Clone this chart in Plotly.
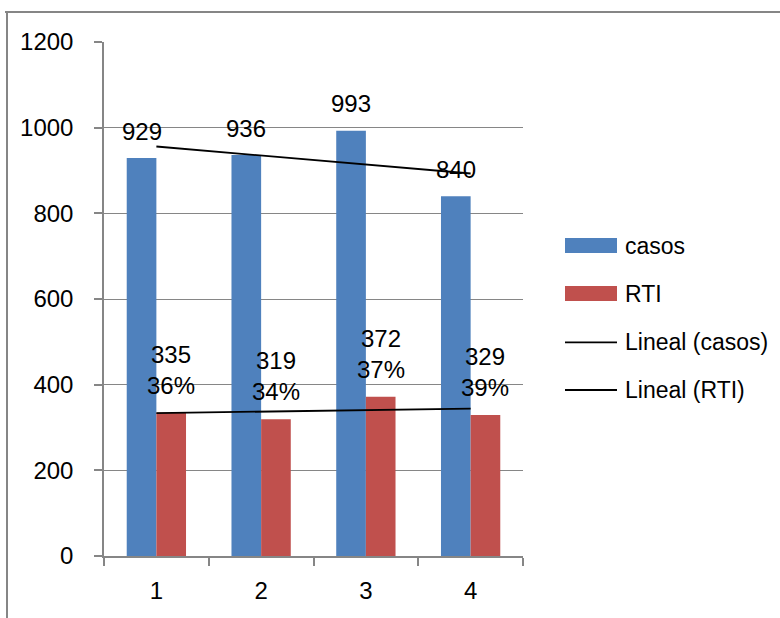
import numpy as np
import plotly.graph_objects as go

# Data
periodos = ["1", "2", "3", "4"]
casos = [929, 936, 993, 840]
rti = [335, 319, 372, 329]
y_ticks = [0, 200, 400, 600, 800, 1000, 1200]

AZUL = "#4F81BD"
ROJO = "#C0504D"
GRIS = "#868686"
FUENTE = "Liberation Sans, Arial, sans-serif"
TAM = 24       # numbers and tick labels
TAM_LEY = 23   # legend entries

W, H = 780, 618
L, R, T, B = 104, 523, 42, 556  # plot area in pixels


def px_x(px):
    return (px - L) / (R - L)


def px_y(py):
    return (B - py) / (B - T)


# Linear trend lines (least squares over the period index)
idx = np.arange(1, len(periodos) + 1)
tend_casos = np.polyval(np.polyfit(idx, casos, 1), idx)
tend_rti = np.polyval(np.polyfit(idx, rti, 1), idx)

fig = go.Figure()
fig.add_trace(go.Bar(x=periodos, y=casos, name="casos", marker_color=AZUL,
                     marker_line_width=0))
fig.add_trace(go.Bar(x=periodos, y=rti, name="RTI", marker_color=ROJO,
                     marker_line_width=0))
fig.add_trace(go.Scatter(x=periodos, y=tend_casos, mode="lines",
                         name="Lineal (casos)", line=dict(color="black", width=1.8)))
fig.add_trace(go.Scatter(x=periodos, y=tend_rti, mode="lines",
                         name="Lineal (RTI)", line=dict(color="black", width=1.8)))

# Value labels (category axis positions given by index)
bar_half = 14.8
anns = []
for i, (c, r) in enumerate(zip(casos, rti)):
    anns.append(dict(x=i, y=c, xref="x", yref="y", text=str(c), showarrow=False,
                     xshift=-bar_half, yshift=27, yanchor="middle",
                     font=dict(size=TAM, color="black", family=FUENTE)))
    pct = round(100 * r / c)
    anns.append(dict(x=i, y=r, xref="x", yref="y", text=f"{r}<br>{pct}%",
                     showarrow=False, xshift=bar_half, yshift=43, yanchor="middle",
                     font=dict(size=TAM, color="black", family=FUENTE)))

# Legend drawn at the right of the plot
shapes = []
leyenda = [("casos", "rect", AZUL, 245.5), ("RTI", "rect", ROJO, 293.5),
           ("Lineal (casos)", "line", "black", 342.3), ("Lineal (RTI)", "line", "black", 390)]
for nombre, tipo, color, cy in leyenda:
    if tipo == "rect":
        shapes.append(dict(type="rect", xref="paper", yref="paper",
                           x0=px_x(565), x1=px_x(617), y0=px_y(cy - 7.5), y1=px_y(cy + 7.5),
                           fillcolor=color, line=dict(width=0)))
    else:
        shapes.append(dict(type="line", xref="paper", yref="paper",
                           x0=px_x(565), x1=px_x(617), y0=px_y(cy), y1=px_y(cy),
                           line=dict(color=color, width=1.8)))
    anns.append(dict(x=px_x(623), y=px_y(cy), xref="paper", yref="paper", text=nombre,
                     showarrow=False, xanchor="left", yanchor="middle",
                     font=dict(size=TAM_LEY, color="black", family=FUENTE)))

# Chart frame
shapes.append(dict(type="line", xref="paper", yref="paper",
                   x0=px_x(5), x1=px_x(W + 5), y0=px_y(12), y1=px_y(12),
                   line=dict(color=GRIS, width=2)))
shapes.append(dict(type="line", xref="paper", yref="paper",
                   x0=px_x(7), x1=px_x(7), y0=px_y(12), y1=px_y(H + 5),
                   line=dict(color=GRIS, width=2)))

fig.update_layout(
    width=W, height=H,
    margin=dict(l=L, r=W - R, t=T, b=H - B),
    paper_bgcolor="white", plot_bgcolor="white",
    barmode="group", bargap=0.434, bargroupgap=0,
    showlegend=False,
    font=dict(family=FUENTE, size=TAM, color="black"),
    annotations=anns, shapes=shapes,
)
fig.update_xaxes(type="category", range=[-0.5, len(periodos) - 0.5],
                 tickson="boundaries", ticks="outside", ticklen=8,
                 tickcolor=GRIS, tickwidth=1.5, showline=True, linecolor=GRIS, linewidth=1.5,
                 showgrid=False, ticklabelstandoff=12,
                 tickfont=dict(size=TAM, color="black", family=FUENTE))
fig.update_yaxes(range=[0, 1200], tickvals=y_ticks, ticks="outside", ticklen=8,
                 tickcolor=GRIS, tickwidth=1.5, showline=True, linecolor=GRIS, linewidth=1.5,
                 showgrid=True, gridcolor=GRIS, gridwidth=1.2, zeroline=False,
                 ticklabelstandoff=16,
                 tickfont=dict(size=TAM, color="black", family=FUENTE))

fig.write_html("out.html")
